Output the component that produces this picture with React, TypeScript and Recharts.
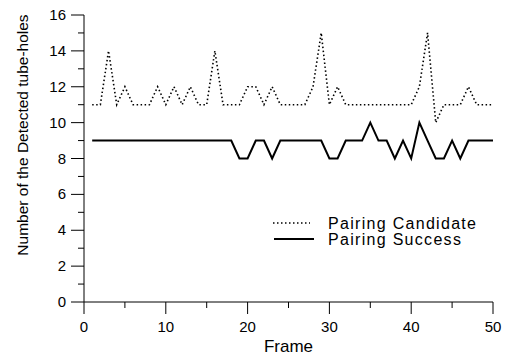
import React from 'react';
import { LineChart, Line, XAxis, YAxis } from 'recharts';

const frames = Array.from({ length: 50 }, (_, i) => i + 1);

const candidate = [
  11, 11, 14, 11, 12, 11, 11, 11, 12, 11,
  12, 11, 12, 11, 11, 14, 11, 11, 11, 12,
  12, 11, 12, 11, 11, 11, 11, 12, 15, 11,
  12, 11, 11, 11, 11, 11, 11, 11, 11, 11,
  12, 15, 10, 11, 11, 11, 12, 11, 11, 11,
];

const success = [
  9, 9, 9, 9, 9, 9, 9, 9, 9, 9,
  9, 9, 9, 9, 9, 9, 9, 9, 8, 8,
  9, 9, 8, 9, 9, 9, 9, 9, 9, 8,
  8, 9, 9, 9, 10, 9, 9, 8, 9, 8,
  10, 9, 8, 8, 9, 8, 9, 9, 9, 9,
];

const xTicks = [0, 5, 10, 15, 20, 25, 30, 35, 40, 45, 50];
const yTicks = [0, 1, 2, 3, 4, 5, 6, 7, 8, 9, 10, 11, 12, 13, 14, 15, 16];

const data = frames.map((f, i) => ({ frame: f, candidate: candidate[i], success: success[i] }));

const FONT = '"Liberation Sans", Arial, sans-serif';

const YTick = (props: any) => {
  const { x, y, payload } = props;
  const major = payload.value % 2 === 0;
  return (
    <g>
      <line x1={x} x2={x - (major ? 13 : 6)} y1={y} y2={y} stroke="#000" strokeWidth={1} />
      {major && (
        <text x={x - 18} y={y} dy={5} textAnchor="end" fontSize={15} fontFamily={FONT} fill="#000">
          {payload.value}
        </text>
      )}
    </g>
  );
};

const XTick = (props: any) => {
  const { x, y, payload } = props;
  const major = payload.value % 10 === 0;
  return (
    <g>
      <line x1={x} x2={x} y1={y} y2={y + (major ? 12 : 6)} stroke="#000" strokeWidth={1} />
      {major && (
        <text x={x} y={y} dy={30} textAnchor="middle" fontSize={15} fontFamily={FONT} fill="#000">
          {payload.value}
        </text>
      )}
    </g>
  );
};

// legend drawn as a small overlay in the lower right of the plot
const LegendBox = () => (
  <svg width={230} height={42} style={{ position: 'absolute', left: 272, top: 210 }}>
    <line x1={1} x2={38} y1={13} y2={13} stroke="#000" strokeWidth={1.5} strokeDasharray="1.5 2.5" />
    <text x={56} y={19} fontSize={16} letterSpacing={1.3} fontFamily={FONT} fill="#000">Pairing Candidate</text>
    <line x1={2} x2={42} y1={29} y2={29} stroke="#000" strokeWidth={2} />
    <text x={56} y={35} fontSize={16} letterSpacing={1.3} fontFamily={FONT} fill="#000">Pairing Success</text>
  </svg>
);

export default function App() {
  return (
    <div style={{ position: 'absolute', left: 0, top: 0, width: 514, height: 359, background: '#fff', fontFamily: FONT }}>
      <LineChart width={514} height={359} data={data} margin={{ top: 15, right: 21, left: 0, bottom: 7 }}>
        <XAxis
          dataKey="frame"
          type="number"
          domain={[0, 50]}
          ticks={xTicks}
          interval={0}
          height={50}
          tickLine={false}
          tickSize={0}
          tickMargin={0}
          tick={<XTick />}
          axisLine={{ stroke: '#000', strokeWidth: 1 }}
          label={{ value: 'Frame', position: 'insideBottom', offset: 0, fontSize: 17, fill: '#000', fontFamily: FONT }}
        />
        <YAxis
          type="number"
          domain={[0, 16]}
          ticks={yTicks}
          interval={0}
          width={84}
          tickLine={false}
          tickSize={0}
          tickMargin={0}
          tick={<YTick />}
          axisLine={{ stroke: '#000', strokeWidth: 1 }}
          label={{
            content: () => (
              <text
                x={28}
                y={135}
                transform="rotate(-90 28 135)"
                textAnchor="middle"
                fontSize={15.5}
                fontFamily={FONT}
                fill="#000"
              >
                Number of the Detected tube-holes
              </text>
            ),
          }}
        />
        <Line
          type="linear"
          dataKey="candidate"
          stroke="#000"
          strokeWidth={1.6}
          strokeDasharray="1.5 2.5"
          dot={false}
          isAnimationActive={false}
        />
        <Line
          type="linear"
          dataKey="success"
          stroke="#000"
          strokeWidth={2}
          dot={false}
          isAnimationActive={false}
        />
      </LineChart>
      <LegendBox />
    </div>
  );
}
